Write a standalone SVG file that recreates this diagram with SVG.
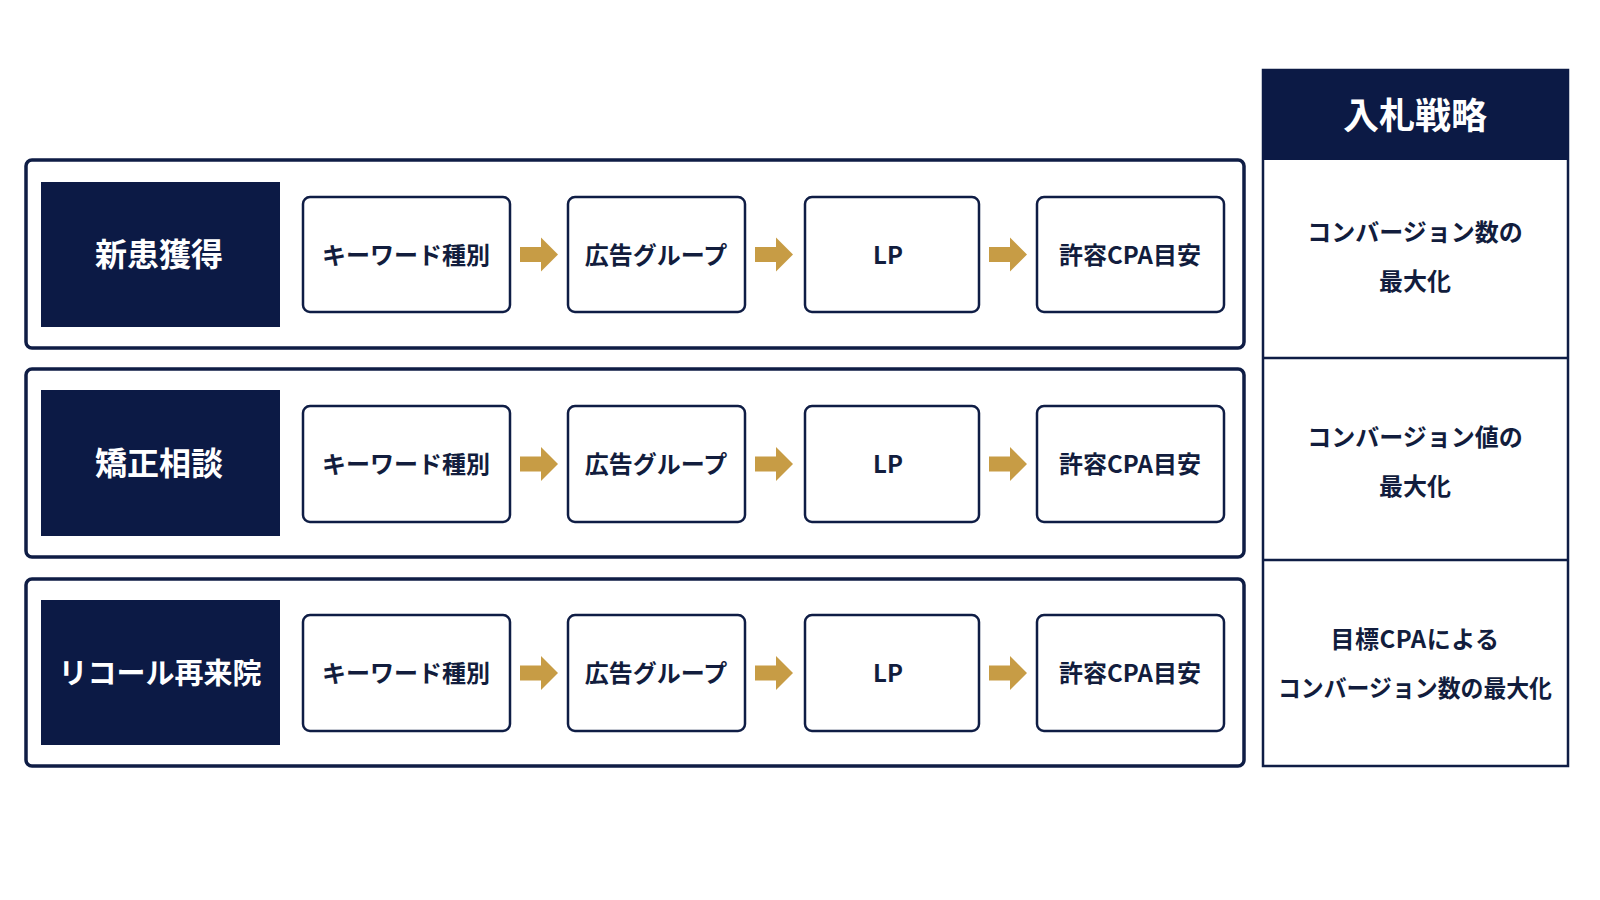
<svg xmlns="http://www.w3.org/2000/svg" width="1600" height="900" viewBox="0 0 1600 900">
<defs>
<style>
.outer{fill:#ffffff;stroke:#0f1d45;stroke-width:3.5}
.label{fill:#0c1a45}
.box{fill:#ffffff;stroke:#0f1d45;stroke-width:2.5}
.lt{font-family:"Noto Sans CJK JP","Noto Sans",sans-serif;font-weight:700;fill:#ffffff;text-anchor:middle;dominant-baseline:central}
.bt{font-family:"Noto Sans CJK JP","Noto Sans",sans-serif;font-weight:700;fill:#121d3d;text-anchor:middle;dominant-baseline:central;font-size:24px}
.arrow{fill:#c79c45}
.panel{fill:#ffffff;stroke:#0f1d45;stroke-width:2.5}
</style>
<path id="arr" d="M0,-7.5 H21 V-17 L38,0 L21,17 V7.5 H0 Z"/>
</defs>
<rect x="0" y="0" width="1600" height="900" fill="#ffffff"/>

<g id="row1">
<rect class="outer" x="26" y="160" width="1218" height="188" rx="6"/>
<g id="row1-label"><rect class="label" x="41" y="182" width="239" height="145"/><text class="lt" x="159" y="251.5" font-size="32">新患獲得</text></g>
<g id="row1-kw"><rect class="box" x="303" y="197" width="207" height="115" rx="7"/><text class="bt" x="406" y="253">キーワード種別</text></g>
<g id="row1-ad"><rect class="box" x="568" y="197" width="177" height="115" rx="7"/><text class="bt" x="656" y="253">広告グループ</text></g>
<g id="row1-lp"><rect class="box" x="805" y="197" width="174" height="115" rx="7"/><text class="bt" x="888" y="253">LP</text></g>
<g id="row1-cpa"><rect class="box" x="1037" y="197" width="187" height="115" rx="7"/><text class="bt" x="1130" y="253">許容CPA目安</text></g>
</g>

<g id="row2">
<rect class="outer" x="26" y="369" width="1218" height="188" rx="6"/>
<g id="row2-label"><rect class="label" x="41" y="390" width="239" height="146"/><text class="lt" x="159" y="461" font-size="32">矯正相談</text></g>
<g id="row2-kw"><rect class="box" x="303" y="406" width="207" height="116" rx="7"/><text class="bt" x="406" y="462">キーワード種別</text></g>
<g id="row2-ad"><rect class="box" x="568" y="406" width="177" height="116" rx="7"/><text class="bt" x="656" y="462">広告グループ</text></g>
<g id="row2-lp"><rect class="box" x="805" y="406" width="174" height="116" rx="7"/><text class="bt" x="888" y="462">LP</text></g>
<g id="row2-cpa"><rect class="box" x="1037" y="406" width="187" height="116" rx="7"/><text class="bt" x="1130" y="462">許容CPA目安</text></g>
</g>

<g id="row3">
<rect class="outer" x="26" y="579" width="1218" height="187" rx="6"/>
<g id="row3-label"><rect class="label" x="41" y="600" width="239" height="145"/><text class="lt" x="160" y="671" font-size="29">リコール再来院</text></g>
<g id="row3-kw"><rect class="box" x="303" y="615" width="207" height="116" rx="7"/><text class="bt" x="406" y="671">キーワード種別</text></g>
<g id="row3-ad"><rect class="box" x="568" y="615" width="177" height="116" rx="7"/><text class="bt" x="656" y="671">広告グループ</text></g>
<g id="row3-lp"><rect class="box" x="805" y="615" width="174" height="116" rx="7"/><text class="bt" x="888" y="671">LP</text></g>
<g id="row3-cpa"><rect class="box" x="1037" y="615" width="187" height="116" rx="7"/><text class="bt" x="1130" y="671">許容CPA目安</text></g>
</g>

<g id="connectors" class="arrow">
<use href="#arr" x="520" y="254.5"/>
<use href="#arr" x="755" y="254.5"/>
<use href="#arr" x="989" y="254.5"/>
<use href="#arr" x="520" y="464"/>
<use href="#arr" x="755" y="464"/>
<use href="#arr" x="989" y="464"/>
<use href="#arr" x="520" y="673"/>
<use href="#arr" x="755" y="673"/>
<use href="#arr" x="989" y="673"/>
</g>

<g id="strategy">
<rect class="panel" x="1263" y="70" width="305" height="696"/>
<g id="strategy-header"><rect x="1262" y="69" width="307" height="91" fill="#0c1a45"/><text class="lt" x="1415" y="113" font-size="36">入札戦略</text></g>
<g id="strategy-1"><text class="bt" x="1415" y="230">コンバージョン数の</text><text class="bt" x="1415" y="279">最大化</text></g>
<line x1="1263" y1="358" x2="1568" y2="358" stroke="#0f1d45" stroke-width="2.5"/>
<g id="strategy-2"><text class="bt" x="1415" y="435">コンバージョン値の</text><text class="bt" x="1415" y="484">最大化</text></g>
<line x1="1263" y1="560" x2="1568" y2="560" stroke="#0f1d45" stroke-width="2.5"/>
<g id="strategy-3"><text class="bt" x="1415" y="637" letter-spacing="0.5">目標CPAによる</text><text class="bt" x="1415" y="686" font-size="23" textLength="274" lengthAdjust="spacingAndGlyphs">コンバージョン数の最大化</text></g>
</g>
</svg>
